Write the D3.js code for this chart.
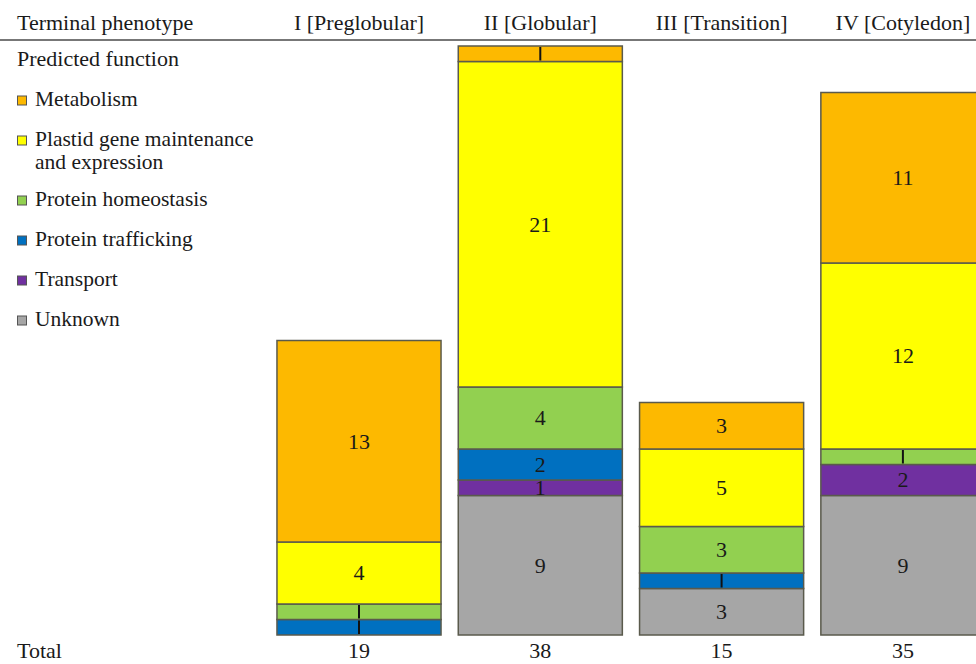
<!DOCTYPE html>
<html>
<head>
<meta charset="utf-8">
<script src="https://cdn.jsdelivr.net/npm/d3@7/dist/d3.min.js"></script>
<style>
  html, body { margin: 0; padding: 0; background: #fff; }
  svg { display: block; }
  text { font-family: "Liberation Serif", "Times New Roman", serif; fill: #1a1a1a; }
</style>
</head>
<body>
<svg id="chart" width="976" height="664"></svg>
<script>
// ---- data ----
const categories = ["I [Preglobular]", "II [Globular]", "III [Transition]", "IV [Cotyledon]"];
const series = ["Metabolism", "Plastid gene maintenance and expression", "Protein homeostasis", "Protein trafficking", "Transport", "Unknown"];
const legendLines = [["Metabolism"], ["Plastid gene maintenance", "and expression"], ["Protein homeostasis"], ["Protein trafficking"], ["Transport"], ["Unknown"]];
const metabolism = [13, 1, 3, 11];
const plastid = [4, 21, 5, 12];
const homeostasis = [1, 4, 3, 1];
const trafficking = [1, 2, 1, 0];
const transport = [0, 1, 0, 2];
const unknown = [0, 9, 3, 9];
const totals = [19, 38, 15, 35];
const colors = ["#FDB900", "#FFFF00", "#92D050", "#0070C0", "#7030A0", "#A6A6A6"];

// ---- build table ----
const valuesBySeries = [metabolism, plastid, homeostasis, trafficking, transport, unknown];
const table = categories.map((c, i) => {
  const row = { cat: c };
  series.forEach((s, j) => row[s] = valuesBySeries[j][i]);
  return row;
});
// stack from bottom: Unknown at bottom ... Metabolism at top
const stackOrder = series.slice().reverse();
const stacked = d3.stack().keys(stackOrder)(table);

const svg = d3.select("#chart");
const fontSize = 22;
const legendFont = 21.5;

const x = d3.scaleBand().domain(categories).range([268.35, 993.55]).paddingInner(0.095).paddingOuter(0.0475);
const y = d3.scaleLinear().domain([0, 38]).range([635, 46]);
const color = d3.scaleOrdinal().domain(series).range(colors);

// header
svg.append("text").attr("x", 17).attr("y", 29.5).attr("font-size", fontSize).text("Terminal phenotype");
svg.selectAll("text.hdr").data(categories).join("text")
  .attr("class", "hdr")
  .attr("x", d => x(d) + x.bandwidth() / 2)
  .attr("y", 29.5).attr("text-anchor", "middle").attr("font-size", fontSize)
  .text(d => d);
svg.append("line").attr("x1", 0).attr("x2", 976).attr("y1", 40).attr("y2", 40)
  .attr("stroke", "#4a4a4a").attr("stroke-width", 1.6);

// legend
svg.append("text").attr("x", 17).attr("y", 65.5).attr("font-size", fontSize).text("Predicted function");
const legendBaselines = [106, 146, 206, 246, 286, 326];
series.forEach((s, j) => {
  const by = legendBaselines[j];
  svg.append("rect").attr("x", 17.5).attr("y", by - 10).attr("width", 9).attr("height", 9)
    .attr("fill", color(s)).attr("stroke", "#555").attr("stroke-width", 1);
  const t = svg.append("text").attr("x", 35).attr("y", by).attr("font-size", legendFont);
  legendLines[j].forEach((ln, k) => {
    t.append("tspan").attr("x", 35).attr("dy", k === 0 ? 0 : 23).text(ln);
  });
});

// bars
const layers = svg.append("g").selectAll("g").data(stacked).join("g")
  .attr("fill", d => color(d.key));
layers.selectAll("rect").data(d => d.map(p => ({ key: d.key, p })).filter(o => o.p[1] - o.p[0] > 0))
  .join("rect")
  .attr("x", o => x(o.p.data.cat))
  .attr("y", o => y(o.p[1]))
  .attr("width", x.bandwidth())
  .attr("height", o => y(o.p[0]) - y(o.p[1]))
  .attr("stroke", "#5a5a4c").attr("stroke-width", 1.5);

// segment labels
const segs = [];
stacked.forEach(layer => layer.forEach(p => {
  const v = p[1] - p[0];
  if (v > 0) segs.push({ key: layer.key, v, cat: p.data.cat, y0: y(p[0]), y1: y(p[1]) });
}));
const labelG = svg.append("g");
segs.forEach(s => {
  const cx = x(s.cat) + x.bandwidth() / 2;
  if (s.v === 1 && s.key !== "Transport") {
    labelG.append("line").attr("x1", cx).attr("x2", cx)
      .attr("y1", s.y1 + 1).attr("y2", s.y0 - 1)
      .attr("stroke", "#111").attr("stroke-width", 2);
  } else {
    labelG.append("text").attr("x", cx).attr("y", (s.y0 + s.y1) / 2)
      .attr("dy", "0.33em").attr("text-anchor", "middle").attr("font-size", fontSize)
      .text(s.v);
  }
});

// totals
svg.append("text").attr("x", 17).attr("y", 657.5).attr("font-size", fontSize).text("Total");
svg.selectAll("text.tot").data(totals).join("text")
  .attr("class", "tot")
  .attr("x", (d, i) => x(categories[i]) + x.bandwidth() / 2)
  .attr("y", 657.5).attr("text-anchor", "middle").attr("font-size", fontSize)
  .text(d => d);
</script>
</body>
</html>
